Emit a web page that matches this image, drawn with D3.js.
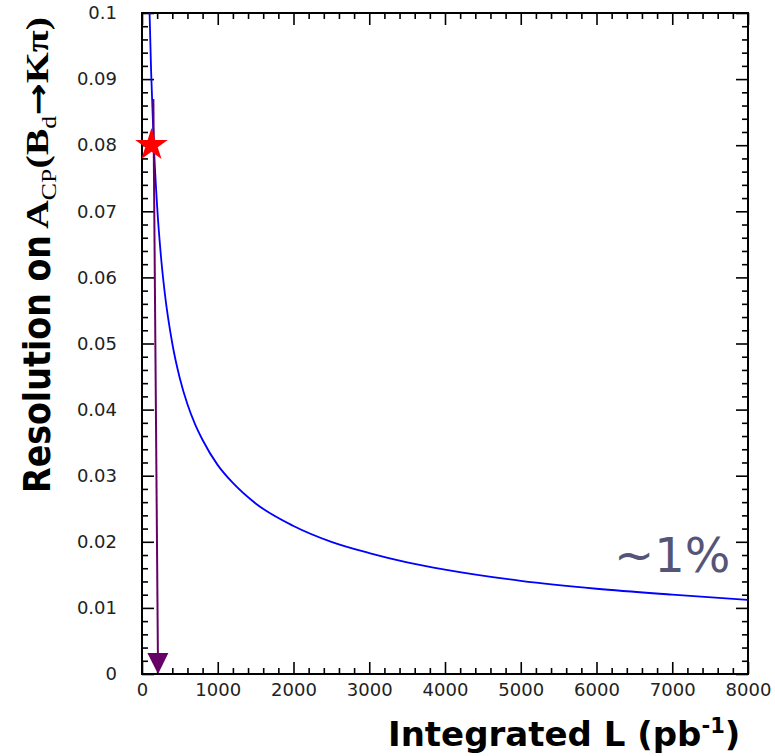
<!DOCTYPE html>
<html>
<head>
<meta charset="utf-8">
<script src="https://cdn.jsdelivr.net/npm/d3@7"></script>
<style>
  html, body { margin: 0; padding: 0; background: #ffffff; }
  svg { display: block; }
</style>
</head>
<body>
<script>
// Expected statistical resolution on the CP asymmetry versus integrated luminosity
const luminosity = [100, 120, 150, 200, 250, 300, 400, 500, 600, 700, 800, 1000, 1200,
                    1500, 2000, 2500, 3000, 3500, 4000, 5000, 6000, 7000, 8000];
const resolution = [0.1, 0.0913, 0.0817, 0.0707, 0.0632, 0.0577, 0.05, 0.0447, 0.0408,
                    0.0378, 0.0354, 0.0316, 0.0289, 0.0258, 0.0224, 0.02, 0.0183, 0.0169,
                    0.0158, 0.0141, 0.0129, 0.012, 0.0112];

// Current measurement (star) and the luminosity it corresponds to (arrow)
const starPoint = { lumi: 125, value: 0.08 };
const arrowFrom = { lumi: 150, value: 0.087 };
const arrowTo = { lumi: 212, value: 0.0 };

const xTicks = [0, 1000, 2000, 3000, 4000, 5000, 6000, 7000, 8000];
const xTickLabels = ["0", "1000", "2000", "3000", "4000", "5000", "6000", "7000", "8000"];
const yTicks = [0, 0.01, 0.02, 0.03, 0.04, 0.05, 0.06, 0.07, 0.08, 0.09, 0.1];
const yTickLabels = ["0", "0.01", "0.02", "0.03", "0.04", "0.05", "0.06", "0.07", "0.08", "0.09", "0.1"];

const annotation = "~1%";

const W = 775, H = 756;
const plotL = 142, plotR = 748, plotT = 13, plotB = 674;

const svg = d3.select("body").append("svg")
  .attr("width", W).attr("height", H);

const x = d3.scaleLinear().domain([0, 8000]).range([plotL, plotR]);
const y = d3.scaleLinear().domain([0, 0.1]).range([plotB, plotT]);

const xMinor = d3.range(0, 8001, 200).filter(v => v % 1000 !== 0);
const yMinor = d3.range(0, 51, 1).map(i => i * 0.002).filter((v, i) => i % 5 !== 0);

const tickFont = "'DejaVu Sans', Verdana, sans-serif";

function styleAxis(g) {
  g.select(".domain").remove();
  g.selectAll(".tick line").attr("stroke", "#000").attr("stroke-width", 1.6);
  g.selectAll(".tick text").attr("fill", "#222").style("font-family", tickFont).style("font-size", "18px");
}

// Bottom axis: labelled major ticks plus minor ticks, pointing inwards
svg.append("g").attr("transform", `translate(0,${plotB})`)
  .call(d3.axisBottom(x).tickValues(xTicks).tickSize(-12).tickPadding(9)
        .tickFormat((d, i) => xTickLabels[i]))
  .call(styleAxis);
svg.append("g").attr("transform", `translate(0,${plotB})`)
  .call(d3.axisBottom(x).tickValues(xMinor).tickSize(-6).tickFormat(""))
  .call(styleAxis);

// Top axis: ticks only
svg.append("g").attr("transform", `translate(0,${plotT})`)
  .call(d3.axisTop(x).tickValues(xTicks).tickSize(-12).tickFormat(""))
  .call(styleAxis);
svg.append("g").attr("transform", `translate(0,${plotT})`)
  .call(d3.axisTop(x).tickValues(xMinor).tickSize(-6).tickFormat(""))
  .call(styleAxis);

// Left axis
svg.append("g").attr("transform", `translate(${plotL},0)`)
  .call(d3.axisLeft(y).tickValues(yTicks).tickSize(-12).tickPadding(25)
        .tickFormat((d, i) => yTickLabels[i]))
  .call(styleAxis);
svg.append("g").attr("transform", `translate(${plotL},0)`)
  .call(d3.axisLeft(y).tickValues(yMinor).tickSize(-6).tickFormat(""))
  .call(styleAxis);

// Right axis: ticks only
svg.append("g").attr("transform", `translate(${plotR},0)`)
  .call(d3.axisRight(y).tickValues(yTicks).tickSize(-12).tickFormat(""))
  .call(styleAxis);
svg.append("g").attr("transform", `translate(${plotR},0)`)
  .call(d3.axisRight(y).tickValues(yMinor).tickSize(-6).tickFormat(""))
  .call(styleAxis);

// Frame
svg.append("rect")
  .attr("x", plotL).attr("y", plotT)
  .attr("width", plotR - plotL).attr("height", plotB - plotT)
  .attr("fill", "none").attr("stroke", "#000").attr("stroke-width", 2);

// Clip region for the curve
svg.append("clipPath").attr("id", "plot-clip")
  .append("rect").attr("x", plotL).attr("y", plotT - 1)
  .attr("width", plotR - plotL).attr("height", plotB - plotT + 1);

const curveData = luminosity.map((l, i) => [l, resolution[i]]);
const line = d3.line()
  .x(d => x(d[0])).y(d => y(d[1]))
  .curve(d3.curveMonotoneX);

svg.append("path")
  .datum(curveData)
  .attr("clip-path", "url(#plot-clip)")
  .attr("d", line)
  .attr("fill", "none")
  .attr("stroke", "#0000ff")
  .attr("stroke-width", 1.8);

// Arrow from the measured resolution down to the luminosity axis
const purple = "#660066";
const ax0 = x(arrowFrom.lumi), ay0 = y(arrowFrom.value);
const ax1 = x(arrowTo.lumi), ay1 = y(arrowTo.value);
const headLen = 21, headHalf = 10.5;
const ang = Math.atan2(ay1 - ay0, ax1 - ax0);
const bx = ax1 - headLen * Math.cos(ang), by = ay1 - headLen * Math.sin(ang);
svg.append("line")
  .attr("x1", ax0).attr("y1", ay0).attr("x2", bx).attr("y2", by)
  .attr("stroke", purple).attr("stroke-width", 2);
svg.append("path")
  .attr("d", `M${ax1},${ay1}` +
             `L${bx + headHalf * Math.sin(ang)},${by - headHalf * Math.cos(ang)}` +
             `L${bx - headHalf * Math.sin(ang)},${by + headHalf * Math.cos(ang)}Z`)
  .attr("fill", purple);

// Star marking the current measurement
svg.append("path")
  .attr("transform", `translate(${x(starPoint.lumi)},${y(starPoint.value)})`)
  .attr("d", d3.symbol().type(d3.symbolStar).size(330)())
  .attr("fill", "#ff0000");

// Annotation
svg.append("text")
  .attr("x", 614).attr("y", 572)
  .attr("fill", "#555577")
  .style("font-family", tickFont)
  .style("font-size", "48px")
  .text(annotation);

// X axis title
const xt = svg.append("text")
  .attr("x", 388).attr("y", 746)
  .attr("fill", "#000")
  .style("font-family", "'DejaVu Sans', Verdana, sans-serif")
  .style("font-weight", "bold")
  .style("font-size", "34px");
xt.append("tspan").text("Integrated L (pb");
xt.append("tspan").attr("dy", -13).style("font-size", "21px").text("-1");
xt.append("tspan").attr("dy", 13).text(")");

// Y axis title: sans part followed by serif formula
const yg = svg.append("g").attr("transform", "translate(50,493) rotate(-90)");
yg.append("text")
  .attr("transform", "scale(1,1.25)")
  .attr("x", 0).attr("y", 0)
  .attr("textLength", 258).attr("lengthAdjust", "spacingAndGlyphs")
  .attr("fill", "#000")
  .style("font-family", "'DejaVu Sans', Verdana, sans-serif")
  .style("font-weight", "bold")
  .style("font-size", "30px")
  .text("Resolution on");

const yt = yg.append("text")
  .attr("x", 264).attr("y", -2)
  .attr("textLength", 212).attr("lengthAdjust", "spacingAndGlyphs")
  .attr("fill", "#000")
  .style("font-family", "'Liberation Serif', 'Times New Roman', serif")
  .style("font-weight", "bold")
  .style("font-size", "31px");
yt.append("tspan").text("A");
yt.append("tspan").attr("dy", 8).style("font-size", "20px").style("font-weight", "normal").text("CP");
yt.append("tspan").attr("dy", -8).text("(B");
yt.append("tspan").attr("dy", 8).style("font-size", "20px").style("font-weight", "normal").text("d");
yt.append("tspan").attr("dy", -8)
  .style("font-family", "'DejaVu Sans', sans-serif").style("font-size", "30px").text("\u2192");
yt.append("tspan").text("K");
yt.append("tspan").style("font-weight", "bold").text("\u03c0");
yt.append("tspan").text(")");
</script>
</body>
</html>
